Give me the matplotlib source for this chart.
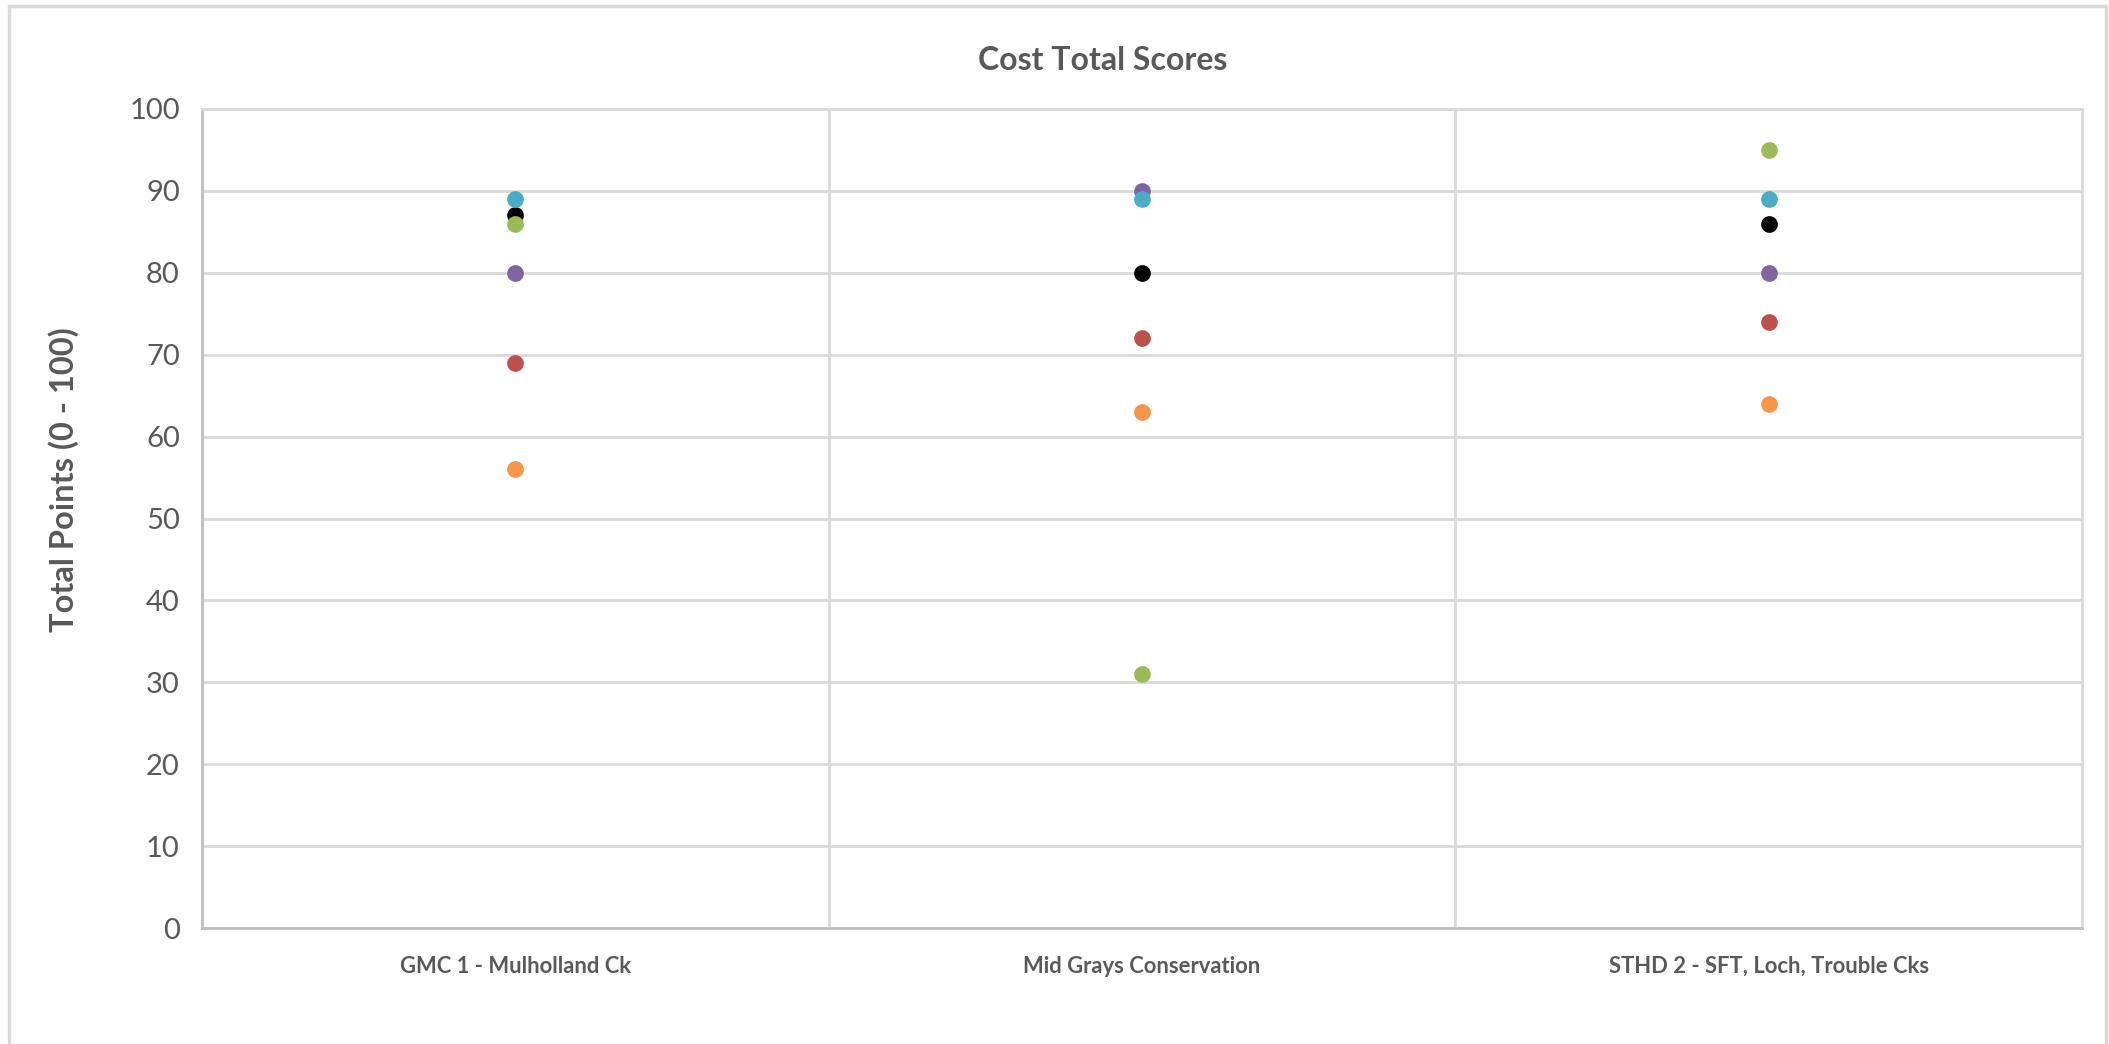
import matplotlib
matplotlib.use("Agg")
import matplotlib.pyplot as plt
from matplotlib.patches import Rectangle

plt.rcParams['font.family'] = ['Lato', 'DejaVu Sans']

categories = ["GMC 1 - Mulholland Ck", "Mid Grays Conservation", "STHD 2 - SFT, Loch, Trouble Cks"]

# one list of scores per reviewer, in category order
purple_scores = [80, 90, 80]
black_scores = [87, 80, 86]
green_scores = [86, 31, 95]
cyan_scores = [89, 89, 89]
red_scores = [69, 72, 74]
orange_scores = [56, 63, 64]

series = [
    (purple_scores, "#8064A2"),
    (black_scores, "#000000"),
    (green_scores, "#9BBB59"),
    (cyan_scores, "#4BACC6"),
    (red_scores, "#C0504D"),
    (orange_scores, "#F79646"),
]

text_gray = "#595959"
grid_gray = "#D9D9D9"

fig = plt.figure(figsize=(21.09, 10.44), dpi=100)
ax = fig.add_axes([0.0958, 0.1111, 0.8914, 0.7845])

# light frame around the whole chart
fig.patches.append(Rectangle((9 / 2109, -0.01), 2097 / 2109, 1.0 - 6 / 1044 + 0.01,
                             transform=fig.transFigure, fill=False,
                             edgecolor="#D9D9D9", linewidth=2.5))

xs = list(range(len(categories)))
for scores, color in series:
    ax.scatter(xs, scores, s=145, color=color, zorder=3, linewidths=0)

ax.set_xlim(-0.5, len(categories) - 0.5)
ax.set_ylim(0, 100)
ax.set_yticks(range(0, 101, 10))
ax.set_xticks(xs)
ax.set_xticklabels(categories, fontsize=15.8, fontweight="bold", color=text_gray)
ax.tick_params(axis="y", labelsize=21, labelcolor=text_gray, length=0, pad=16)
ax.tick_params(axis="x", length=0, pad=20)

ax.grid(axis="y", color=grid_gray, linewidth=2)
ax.set_axisbelow(True)
for x in range(len(categories) - 1):
    ax.axvline(x + 0.5, color=grid_gray, linewidth=2, zorder=1)

for side in ["left", "bottom", "right", "top"]:
    ax.spines[side].set_color(grid_gray)
    ax.spines[side].set_linewidth(2)
ax.spines["left"].set_color("#BFBFBF")
ax.spines["bottom"].set_color("#BFBFBF")

ax.set_ylabel("Total Points (0 - 100)", fontsize=23.5, fontweight="bold",
              color=text_gray)
ax.yaxis.set_label_coords(-0.0655, 0.547)
fig.text(0.523, 0.942, "Cost Total Scores", fontsize=23, fontweight="bold",
         color=text_gray, ha="center", va="center")

fig.savefig("out.png", dpi=100, facecolor="white")
